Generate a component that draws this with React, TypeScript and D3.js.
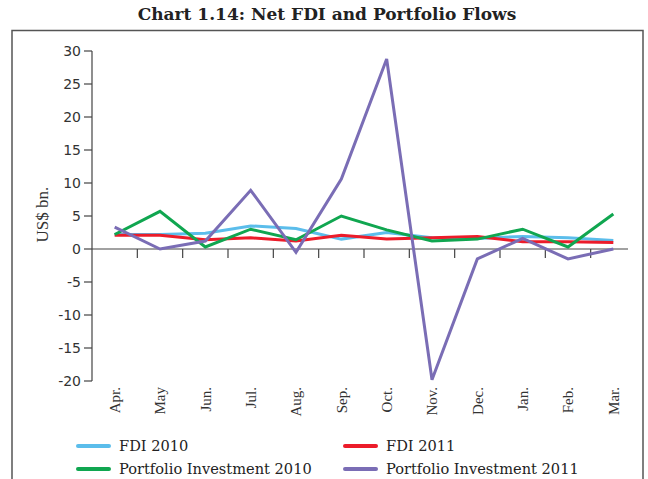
import * as d3 from "d3";

const months = ["Apr.", "May", "Jun.", "Jul.", "Aug.", "Sep.", "Oct.", "Nov.", "Dec.", "Jan.", "Feb.", "Mar."];
const fdi2010 = [2.2, 2.2, 2.4, 3.5, 3.1, 1.5, 2.5, 1.7, 1.6, 1.9, 1.7, 1.3];
const fdi2011 = [2.1, 2.1, 1.4, 1.7, 1.2, 2.1, 1.5, 1.7, 1.9, 1.1, 1.1, 1.0];
const pi2010 = [2.2, 5.7, 0.3, 3.0, 1.4, 5.0, 2.9, 1.2, 1.5, 3.0, 0.3, 5.3];
const pi2011 = [3.3, 0.0, 1.2, 8.9, -0.5, 10.6, 28.8, -19.8, -1.5, 1.6, -1.5, 0.0];
const yTicks = [-20, -15, -10, -5, 0, 5, 10, 15, 20, 25, 30];

const series = [
  { name: "FDI 2010", values: fdi2010, color: "#5bbdeb" },
  { name: "FDI 2011", values: fdi2011, color: "#ec1c2a" },
  { name: "Portfolio Investment 2010", values: pi2010, color: "#10a650" },
  { name: "Portfolio Investment 2011", values: pi2011, color: "#7a6db5" },
];

const width = 648;
const height = 479;
const serif = "'Liberation Serif', 'DejaVu Serif', serif";
const wideSerif = "'DejaVu Serif', serif";
const sans = "'DejaVu Sans', sans-serif";

export default function App() {
  const x = d3.scaleBand<string>().domain(months).range([92, 636]);
  const y = d3.scaleLinear().domain([-20, 30]).range([381, 51]);
  const cx = (i: number) => (x(months[i]) ?? 0) + x.bandwidth() / 2;

  const line = d3
    .line<number>()
    .x((_, i) => cx(i))
    .y((d) => y(d));

  const x0 = x.range()[0];
  const axisEnd = x.range()[1] - 8;

  // legend: 2 columns x 2 rows
  const legendPos = [
    { lx: 78, ly: 446 },
    { lx: 345, ly: 446 },
    { lx: 78, ly: 469 },
    { lx: 345, ly: 469 },
  ];

  return (
    <svg
      width={width}
      height={height}
      style={{ position: "absolute", left: 0, top: 0, background: "#fff" }}
    >
      <text
        x={327}
        y={20}
        textAnchor="middle"
        fontFamily={wideSerif}
        fontWeight="bold"
        fontSize={17}
        fill="#222"
      >
        Chart 1.14: Net FDI and Portfolio Flows
      </text>

      {/* frame */}
      <path d={`M12,${height + 2} V30.5 H643 V${height + 2}`} fill="none" stroke="#555" strokeWidth={1.5} />

      {/* y axis */}
      <line x1={x0} x2={x0} y1={y(30)} y2={y(-20)} stroke="#444" strokeWidth={1.2} />
      {yTicks.map((t) => (
        <g key={t}>
          <line x1={x0 - 8} x2={x0} y1={y(t)} y2={y(t)} stroke="#444" strokeWidth={1.2} />
          <text
            x={x0 - 11}
            y={y(t)}
            dy="0.35em"
            textAnchor="end"
            fontFamily={sans}
            fontSize={14}
            fill="#333"
          >
            {t}
          </text>
        </g>
      ))}
      <text
        transform={`translate(48,${y(5.2)}) rotate(-90)`}
        textAnchor="middle"
        fontFamily={serif}
        fontSize={17}
        fill="#333"
      >
        US$ bn.
      </text>

      {/* zero line with ticks between months */}
      <line x1={x0} x2={axisEnd} y1={y(0)} y2={y(0)} stroke="#444" strokeWidth={1.2} />
      {months.slice(1).map((m) => (
        <line
          key={m}
          x1={x(m) ?? 0}
          x2={x(m) ?? 0}
          y1={y(0)}
          y2={y(0) + 9}
          stroke="#444"
          strokeWidth={1.2}
        />
      ))}

      {/* month labels */}
      {months.map((m, i) => (
        <text
          key={m}
          transform={`translate(${cx(i)},${387}) rotate(-90)`}
          textAnchor="end"
          dy="0.35em"
          fontFamily={serif}
          fontSize={15}
          fill="#333"
        >
          {m}
        </text>
      ))}

      {/* series lines */}
      {series.map((s) => (
        <path
          key={s.name}
          d={line(s.values) ?? ""}
          fill="none"
          stroke={s.color}
          strokeWidth={3}
        />
      ))}

      {/* legend */}
      {series.map((s, i) => (
        <g key={s.name} transform={`translate(${legendPos[i].lx},${legendPos[i].ly})`}>
          <line x1={0} x2={31} y1={0} y2={0} stroke={s.color} strokeWidth={4} strokeLinecap="round" />
          <text x={41} y={0} dy="0.35em" fontFamily={wideSerif} fontSize={14.6} fill="#222">
            {s.name}
          </text>
        </g>
      ))}
    </svg>
  );
}
